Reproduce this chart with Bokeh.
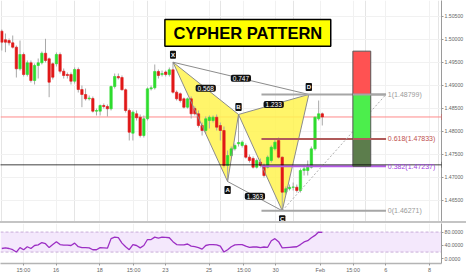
import numpy as np
from bokeh.plotting import figure
from bokeh.layouts import column
from bokeh.models import (ColumnDataSource, Range1d, FixedTicker, PrintfTickFormatter,
                          Label, Span, BoxAnnotation, Grid, Div)
from bokeh.embed import file_html
from bokeh.resources import INLINE
from bokeh.core.properties import value

# ---------------- data (4H candles) ----------------
opens = [1.50174, 1.49987, 1.49971, 1.49921, 1.49826, 1.49356, 1.49667, 1.49232, 1.49487, 1.49102,
         1.49428, 1.49487, 1.49695, 1.49574, 1.49465, 1.49465, 1.49667, 1.49304, 1.49232, 1.49232,
         1.49087, 1.49341, 1.48906, 1.48798, 1.48704, 1.48711, 1.48435, 1.48435, 1.48558, 1.48537,
         1.48487, 1.48971, 1.49189, 1.49167, 1.48900, 1.48450, 1.47956, 1.48378, 1.48304, 1.47906,
         1.48269, 1.48921, 1.48943, 1.49298, 1.49232, 1.49287, 1.49232, 1.49335, 1.48848, 1.48813,
         1.48704, 1.48521, 1.48704, 1.48493, 1.48378, 1.48124, 1.48015, 1.48232, 1.48232, 1.48304,
         1.48124, 1.48015, 1.47254, 1.47471, 1.47617, 1.47726, 1.47689, 1.47689, 1.47435, 1.47406,
         1.47217, 1.47326, 1.47254, 1.47217, 1.47363, 1.47617, 1.47798, 1.47435, 1.46674, 1.46748,
         1.46782, 1.46782, 1.46711, 1.47145, 1.47145, 1.47217, 1.47617, 1.48269, 1.48378]
highs = [1.50211, 1.50124, 1.50015, 1.50080, 1.49863, 1.49971, 1.49711, 1.49537, 1.49537, 1.49471,
         1.49580, 1.49732, 1.50008, 1.49602, 1.49493, 1.49711, 1.49711, 1.49363, 1.49276, 1.49276,
         1.49385, 1.49385, 1.48993, 1.48928, 1.48776, 1.48754, 1.48493, 1.48580, 1.48602, 1.48580,
         1.48993, 1.49254, 1.49254, 1.49211, 1.48928, 1.48493, 1.48450, 1.48450, 1.48363, 1.48341,
         1.48950, 1.48993, 1.49450, 1.49341, 1.49319, 1.49319, 1.49385, 1.49500, 1.48885, 1.48841,
         1.48732, 1.48732, 1.48754, 1.48537, 1.48450, 1.48189, 1.48319, 1.48341, 1.48341, 1.48363,
         1.48189, 1.48102, 1.47580, 1.47667, 1.47732, 1.48363, 1.47798, 1.47732, 1.47493, 1.47450,
         1.47406, 1.47406, 1.47298, 1.47471, 1.47689, 1.47819, 1.47863, 1.47450, 1.46798, 1.46841,
         1.46885, 1.46841, 1.47189, 1.47254, 1.47363, 1.47667, 1.48319, 1.48667, 1.48406]
lows = [1.49754, 1.49717, 1.49863, 1.49798, 1.49167, 1.49319, 1.49189, 1.49189, 1.49058, 1.49015,
        1.49145, 1.49450, 1.49493, 1.48739, 1.49124, 1.49406, 1.49254, 1.49145, 1.49145, 1.49015,
        1.49037, 1.48841, 1.48521, 1.48667, 1.48667, 1.48406, 1.48341, 1.48341, 1.48493, 1.48319,
        1.48450, 1.48928, 1.49124, 1.48885, 1.48406, 1.47798, 1.47798, 1.48232, 1.47863, 1.47863,
        1.48232, 1.48885, 1.48906, 1.49145, 1.49189, 1.49189, 1.49189, 1.48819, 1.48667, 1.48624,
        1.48493, 1.48493, 1.48276, 1.48341, 1.48080, 1.47906, 1.47950, 1.48058, 1.48189, 1.48015,
        1.47798, 1.47211, 1.46906, 1.47428, 1.47580, 1.47667, 1.47645, 1.47406, 1.47319, 1.47189,
        1.47189, 1.47211, 1.46993, 1.47189, 1.47319, 1.47580, 1.47406, 1.46271, 1.46624, 1.46711,
        1.46711, 1.46667, 1.46667, 1.47037, 1.47037, 1.47189, 1.47580, 1.48232, 1.48124]
closes = [1.49935, 1.49935, 1.49921, 1.49826, 1.49356, 1.49667, 1.49232, 1.49487, 1.49102, 1.49428,
          1.49487, 1.49695, 1.49537, 1.49065, 1.49174, 1.49667, 1.49304, 1.49211, 1.49211, 1.49087,
          1.49341, 1.48906, 1.48798, 1.48704, 1.48721, 1.48435, 1.48450, 1.48558, 1.48537, 1.48487,
          1.48971, 1.49189, 1.49161, 1.48900, 1.48450, 1.47978, 1.48413, 1.48291, 1.47906, 1.48269,
          1.48921, 1.48943, 1.49298, 1.49211, 1.49254, 1.49232, 1.49335, 1.48848, 1.48704, 1.48667,
          1.48521, 1.48704, 1.48378, 1.48378, 1.48124, 1.48015, 1.48269, 1.48304, 1.48304, 1.48087,
          1.48015, 1.47254, 1.47471, 1.47617, 1.47689, 1.47754, 1.47761, 1.47435, 1.47363, 1.47217,
          1.47363, 1.47254, 1.47037, 1.47435, 1.47652, 1.47761, 1.47435, 1.46674, 1.46748, 1.46782,
          1.46787, 1.46711, 1.47145, 1.47182, 1.47217, 1.47617, 1.48304, 1.48378, 1.48309]
rsi = [30.7, 32.5, 30.7, 27, 20, 33.4, 27, 36, 30.7, 39.7, 41.5, 48.6, 45, 33.4, 42.4, 51.3, 42.4,
       40.6, 40.6, 39.7, 46.9, 36, 33.4, 33.4, 32.5, 27, 27, 33.4, 32.5, 31.6, 60.3, 64.8, 63, 46.9,
       36, 27, 42.4, 39.7, 32.5, 39.7, 57.6, 57.6, 64.8, 62.1,
       64.8, 63.9, 63, 51.3, 42.4, 41.5, 41.5, 44.2, 37.9, 36, 33.4, 28.9, 39.7, 42.4, 42.4, 41.5,
       37.9, 20, 27, 36, 41.5, 42.4, 42.4, 37.9, 34.3, 35.2, 35.2, 33.4, 35.2, 34.3, 54, 60.3, 51.3,
       32.5, 33.4, 34.3, 35.2, 36, 42.4, 50.4, 54, 63, 70, 80, 79]

# Cypher pattern points (bar index, price) and leg ratios
pat_names = ["X", "A", "B", "C", "D"]
pat_bar = [47, 62, 65, 77, 84.3]
pat_price = [1.49500, 1.46906, 1.48363, 1.46271, 1.48799]
ratio_legs = [("X", "B"), ("X", "D"), ("B", "D"), ("A", "C")]
ratio_text = ["0.568", "0.747", "1.233", "1.363"]

# Fibonacci levels
fib_text = ["1(1.48799)", "0.618(1.47833)", "0.382(1.47237)", "0(1.46271)"]
fib_price = [1.48799, 1.47833, 1.47237, 1.46271]
fib_color = ["#a6a6a6", "#b05a5a", "#b45ae6", "#a6a6a6"]
fib_text_color = ["#9a9a9a", "#c0504d", "#a040e0", "#9a9a9a"]

# Risk/reward box levels
box_top = [1.49740, 1.48799, 1.47833]
box_bottom = [1.48799, 1.47833, 1.47237]
box_color = ["#ff5252", "#4cee4c", "#5c7d4c"]

last_price = 1.48309
dotted_price = 1.47271

price_ticks = [1.460, 1.465, 1.470, 1.475, 1.480, 1.485, 1.490, 1.495, 1.500, 1.505]
rsi_ticks = [0, 40, 80]
x_tick_pos = [5.92, 14.92, 26.92, 36.19, 44.92, 56.92, 66.46, 75.19, 87.46, 96.46, 105.46, 117.46]
x_tick_lbl = ["15:00", "16", "18", "15:00", "23", "25", "15:00", "30", "Feb", "15:00", "6", "8"]

# ---------------- layout constants ----------------
X0, X1 = -0.355, 120.73
Y0, Y1 = 1.46037, 1.50841
FONT = "Liberation Sans"
UP, DOWN = "#2edc2e", "#e01818"

bars = list(range(len(opens)))
src = ColumnDataSource(dict(
    x=bars, o=opens, h=highs, l=lows, c=closes,
    top=[max(o, c) for o, c in zip(opens, closes)],
    bot=[min(o, c) for o, c in zip(opens, closes)],
    col=[UP if c >= o else DOWN for o, c in zip(opens, closes)],
))

p = figure(width=466, height=221, x_range=Range1d(X0, X1), y_range=Range1d(Y0, Y1),
           x_axis_location=None, y_axis_location="right", output_backend="svg",
           toolbar_location=None, min_border_left=0, min_border_right=22,
           min_border_top=0, min_border_bottom=0)
p.outline_line_color = None
p.background_fill_color = "white"
yax = p.yaxis[0]
yax.ticker = FixedTicker(ticks=price_ticks)
yax.formatter = PrintfTickFormatter(format="%.5f")
yax.major_label_text_font_size = "5.2px"
yax.major_label_text_color = "#666666"
yax.major_label_text_font = FONT
yax.major_label_standoff = 1
yax.major_tick_out = 2
yax.major_tick_in = 0
yax.minor_tick_out = 0
yax.minor_tick_in = 0
yax.axis_line_color = "#9a9a9a"
yax.major_tick_line_color = "#9a9a9a"
p.ygrid.grid_line_color = "#f1f1f1"
p.add_layout(Grid(dimension=0, ticker=FixedTicker(ticks=x_tick_pos), grid_line_color="#f1f1f1"))

# pattern triangles (below candles)
pt = {n: (b, v) for n, b, v in zip(pat_names, pat_bar, pat_price)}
tri1 = ["X", "A", "B"]
tri2 = ["B", "C", "D"]
p.patches(xs=[[pt[n][0] for n in tri1], [pt[n][0] for n in tri2]],
          ys=[[pt[n][1] for n in tri1], [pt[n][1] for n in tri2]],
          fill_color="#fff350", fill_alpha=0.85, line_color=None)

# horizontal reference lines
p.add_layout(Span(location=last_price, dimension="width", line_color="#ff8a8a", line_width=1,
                  level="underlay"))

# candles
p.segment(x0="x", y0="l", x1="x", y1="h", source=src, line_color="#a8a8a8", line_width=1)
p.vbar(x="x", width=0.66, top="top", bottom="bot", source=src,
       fill_color="col", line_color="col", line_width=0.6)

# pattern edges
edges = [("X", "A"), ("A", "B"), ("B", "X"), ("B", "C"), ("C", "D"), ("D", "B"), ("X", "D"), ("A", "C")]
p.multi_line(xs=[[pt[a][0], pt[b][0]] for a, b in edges],
             ys=[[pt[a][1], pt[b][1]] for a, b in edges],
             line_color="#8c8c8c", line_width=1)

# fib lines
FX0, FX1 = 71.3, 105.5
p.multi_line(xs=[[FX0, FX1] for _ in fib_price], ys=[[v, v] for v in fib_price],
             line_color=fib_color, line_width=2)
p.add_layout(Span(location=dotted_price, dimension="width", line_color="black",
                  line_width=1.3, line_dash="1 1"))
# dashed diagonal from C to the 1-level end
p.line(x=[pt["C"][0], FX1], y=[pt["C"][1], fib_price[0]], line_color="#b0b0b0",
       line_dash="2 2", line_width=1)

# risk/reward box
BX0, BX1 = 96.4, 101.3
p.quad(left=BX0, right=BX1, top=box_top, bottom=box_bottom, fill_color=box_color,
       line_color="#555555", line_width=1)
p.multi_line(xs=[[BX0, FX1] for _ in fib_price[:2]], ys=[[v, v] for v in fib_price[:2]],
             line_color=fib_color[:2], line_width=2)

for t, v, c in zip(fib_text, fib_price, fib_text_color):
    p.add_layout(Label(x=106.0, y=v, text=t, text_align="left", text_baseline="middle",
                       text_font_size="7px", text_color=c, text_font=FONT))

# ratio labels
for (a, b), t in zip(ratio_legs, ratio_text):
    p.add_layout(Label(x=(pt[a][0] + pt[b][0]) / 2, y=(pt[a][1] + pt[b][1]) / 2, text=t,
                       text_align="center", text_baseline="middle", text_font_size="6.5px",
                       text_color="white", text_font=FONT, background_fill_color="#111111",
                       padding=(2, 1), border_radius=2))
# point labels
for n in pat_names:
    up_side = n in ("X", "B", "D")
    p.add_layout(Label(x=pt[n][0], y=pt[n][1], text=n, text_align="center",
                       text_baseline="middle", y_offset=7.5 if up_side else -8.5,
                       text_font_size="6px", text_color="white", text_font=FONT,
                       text_font_style="bold", background_fill_color="#111111",
                       padding=1, border_radius=1))

# title box
p.quad(left=44.78, right=90.32, top=1.50428, bottom=1.49848, fill_color="#ffff00",
       line_color="black", line_width=1.5)
p.text(x=[67.55], y=[1.50138], text=["CYPHER PATTERN"], text_align="center",
       text_baseline="middle", text_font=value("Liberation Sans"),
       text_font_style="bold", text_font_size="16.5px", text_color="black")

# price tags on the axis
p.add_layout(Label(x=X1, y=last_price, text="1.48309", text_align="left", text_baseline="middle",
                   text_font_size="5.5px", text_color="white", text_font=FONT,
                   background_fill_color="#ff1a1a", padding=(2, 1)))
p.add_layout(Label(x=X1, y=1.48134, text="1:36:57", text_align="left", text_baseline="middle",
                   x_offset=2, text_font_size="5.5px", text_color="white", text_font=FONT,
                   background_fill_color="#ff1a1a", padding=(2, 1)))
p.add_layout(Label(x=X1, y=dotted_price, text="1.47271", text_align="left", text_baseline="middle",
                   text_font_size="5.5px", text_color="white", text_font=FONT,
                   background_fill_color="#111111", padding=(2, 1)))

# separator between panels (full width)
sep = Div(width=466, height=2, margin=0, styles={"background-color": "#c4c4c4"})

# ---------------- RSI panel ----------------
r = figure(width=466, height=52, x_range=p.x_range, y_range=Range1d(-14.3, 105.7),
           y_axis_location="right", output_backend="svg", toolbar_location=None,
           min_border_left=0, min_border_right=22, min_border_top=0, min_border_bottom=10)
r.outline_line_color = None
r.add_layout(BoxAnnotation(bottom=20, top=80, fill_color="#f4e8fc", fill_alpha=1,
                           line_color=None, level="underlay"))
for lv in (20, 80):
    r.add_layout(Span(location=lv, dimension="width", line_color="#c8acd8", line_dash="3 2",
                      line_width=1, level="underlay"))
r.line(x=bars, y=rsi, line_color="#9c2fc4", line_width=1.3)
ry = r.yaxis[0]
ry.ticker = FixedTicker(ticks=rsi_ticks)
ry.formatter = PrintfTickFormatter(format="%.4f")
ry.major_label_text_font_size = "5.2px"
ry.major_label_text_color = "#666666"
ry.major_label_text_font = FONT
ry.major_label_standoff = 1
ry.major_tick_out = 2
ry.major_tick_in = 0
ry.minor_tick_out = 0
ry.minor_tick_in = 0
ry.axis_line_color = "#9a9a9a"
ry.major_tick_line_color = "#9a9a9a"
r.ygrid.grid_line_color = None
rx = r.xaxis[0]
rx.ticker = FixedTicker(ticks=x_tick_pos)
rx.major_label_overrides = {pos: lbl for pos, lbl in zip(x_tick_pos, x_tick_lbl)}
rx.major_label_text_font_size = "5.5px"
rx.major_label_text_color = "#666666"
rx.major_label_text_font = FONT
rx.major_label_standoff = 1
rx.major_tick_out = 2
rx.major_tick_in = 0
rx.minor_tick_out = 0
rx.minor_tick_in = 0
rx.axis_line_color = "#b4b4b4"
rx.axis_line_width = 1.5
rx.major_tick_line_color = "#9a9a9a"
r.xgrid.grid_line_color = "#f1f1f1"

layout = column(p, sep, r, spacing=0)
open("out.html", "w").write(file_html(layout, INLINE))
